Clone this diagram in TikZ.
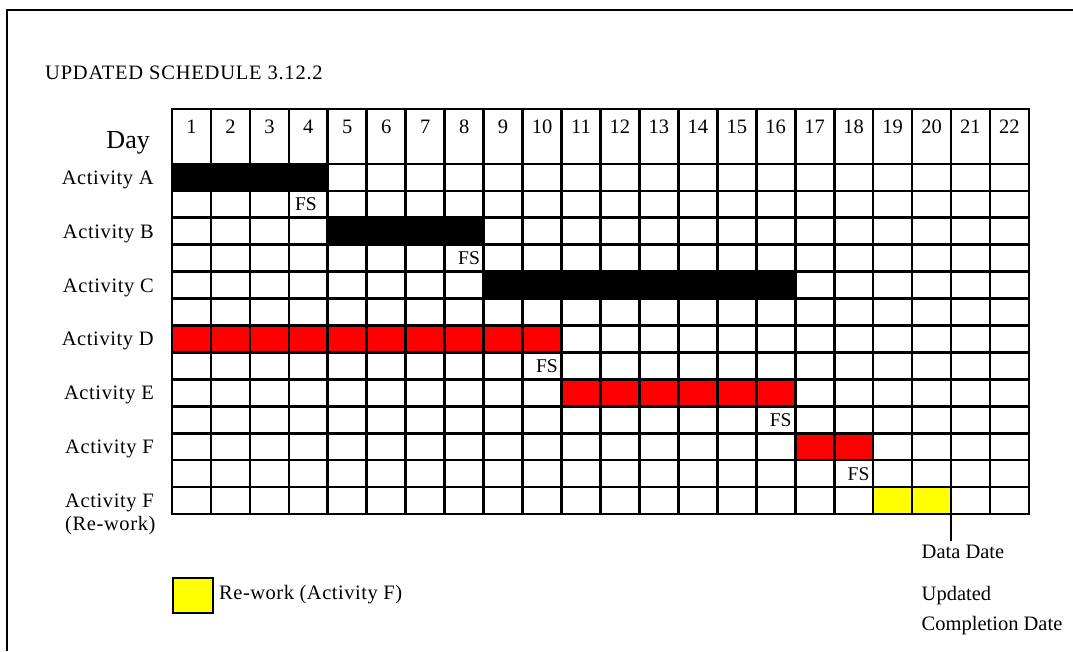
\documentclass[tikz,border=0pt]{standalone}
\usepackage{fontspec}
\setmainfont{Liberation Serif}
\usepackage{tikz}
\usetikzlibrary{positioning}
\definecolor{barRed}{HTML}{FF0000}
\definecolor{reworkYellow}{HTML}{FFFF00}

\begin{document}
\begin{tikzpicture}[x=1pt, y=-1pt,
  every node/.style={font=\fontsize{20.5}{24}\selectfont, inner sep=0pt},
  gridline/.style={line width=2.7pt, line cap=rect},
  rowlabel/.style={anchor=base east, font=\fontsize{20.5}{24}\selectfont\addfontfeatures{LetterSpace=3}},
  fsnote/.style={font=\fontsize{19.5}{22}\selectfont},
  legbox/.style={draw, line width=2pt, fill=reworkYellow,
                 minimum width=40pt, minimum height=35pt, anchor=north west},
]
  \def\cw{38.95}
  \def\rh{26.92}
  \useasboundingbox (0,0) rectangle (1073,651);

  % outer frame
  \draw[line width=2pt] (7,651) -- (7,10) -- (1073,10);

  \node[anchor=base west, font=\fontsize{20.5}{24}\selectfont\addfontfeatures{LetterSpace=3.8}]
    (title) at (45,79) {UPDATED SCHEDULE 3.12.2};

  % bars
  \foreach \r/\a/\b/\c in {1/1/4/black, 3/5/8/black, 5/9/16/black,
                           7/1/10/barRed, 9/11/16/barRed, 11/17/18/barRed,
                           13/19/20/reworkYellow}
    \fill[\c] ({172+(\a-1)*\cw},{164+(\r-1)*\rh}) rectangle ({172+\b*\cw},{164+\r*\rh});

  % grid
  \foreach \i in {0,...,22}
    \draw[gridline] ({172+\i*\cw},109) -- ({172+\i*\cw},{164+13*\rh});
  \draw[gridline] (172,109) -- ({172+22*\cw},109);
  \foreach \j in {0,...,13}
    \draw[gridline] (172,{164+\j*\rh}) -- ({172+22*\cw},{164+\j*\rh});

  % header
  \node[anchor=base east, font=\fontsize{26}{30}\selectfont] (day) at (150,148) {Day};
  \foreach \i in {1,...,22}
    \node (d\i) at ({172+(\i-0.5)*\cw},126.5) {\i};

  % row labels
  \foreach \r/\t/\n in {1/Activity A/A, 3/Activity B/B, 5/Activity C/C,
                        7/Activity D/D, 9/Activity E/E, 11/Activity F/F,
                        13/Activity F/Fr}
    \node[rowlabel] (lbl\n) at (154,{164+(\r-0.5)*\rh+7}) {\t};
  \node[rowlabel, anchor=base west] (lblFrB) at ([yshift=-23pt]lblFr.base west) {(Re-work)};

  % finish-start links
  \node[fsnote, anchor=base west] (fs1) at ({172+3*\cw+6},{164+1.5*\rh+6.5}) {FS};
  \foreach \r/\c/\n in {4/8/2, 8/10/3, 10/16/4, 12/18/5}
    \node[fsnote, anchor=base east] (fs\n) at ({172+\c*\cw-3.5},{164+(\r-0.5)*\rh+6.5}) {FS};

  % data date
  \coordinate (ddTop) at ({172+20*\cw},{164+13*\rh});
  \node[anchor=base west] (ddText) at (921.5,558) {Data Date};
  \draw[line width=2pt] (ddTop) -- ([yshift=3pt]ddTop |- ddText.north);
  \node[anchor=base west] (updText) at (921.5,600) {Updated};
  \node[anchor=base west] (cmpText) at (921.5,630) {Completion Date};

  % legend
  \node[legbox] (legBox) at (172,577) {};
  \node[anchor=base west, font=\fontsize{20.5}{24}\selectfont\addfontfeatures{LetterSpace=2.5}]
    (legText) at ([xshift=5pt, yshift=-3.5pt]legBox.east) {Re-work (Activity F)};
\end{tikzpicture}
\end{document}
